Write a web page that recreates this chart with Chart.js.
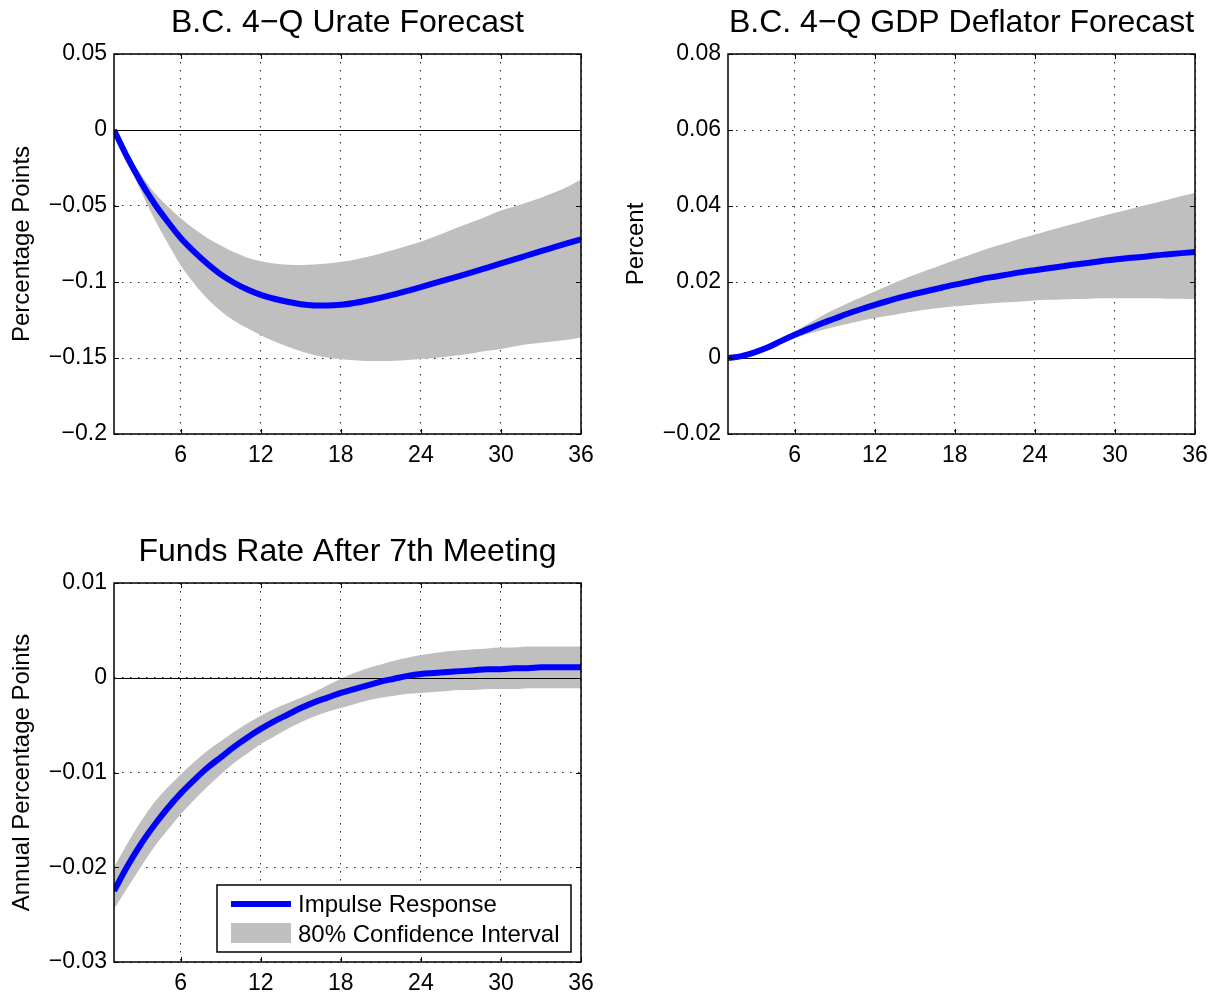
<!DOCTYPE html>
<html><head><meta charset="utf-8">
<script src="https://cdn.jsdelivr.net/npm/chart.js@4.4.1/dist/chart.umd.min.js"></script>
<style>
html,body{margin:0;padding:0;background:#fff;width:1216px;height:998px;overflow:hidden}
canvas{position:absolute}
</style></head><body>
<canvas id="c1" width="608" height="490" style="left:0;top:0"></canvas>
<canvas id="c2" width="608" height="490" style="left:608px;top:0"></canvas>
<canvas id="c3" width="608" height="498" style="left:0;top:500px"></canvas>
<script>
// ---- data ----
const horizon = [1,2,3,4,5,6,7,8,9,10,11,12,13,14,15,16,17,18,19,20,21,22,23,24,25,26,27,28,29,30,31,32,33,34,35,36];
const xTicks = [6,12,18,24,30,36];

const urateIR = [0,-0.018,-0.034,-0.048,-0.060,-0.071,-0.080,-0.088,-0.095,-0.1005,-0.105,-0.1085,-0.111,-0.113,-0.1146,-0.1154,-0.1155,-0.1150,-0.1138,-0.1122,-0.1103,-0.1082,-0.1058,-0.1033,-0.1008,-0.0983,-0.0958,-0.0932,-0.0905,-0.0878,-0.0851,-0.0824,-0.0797,-0.0771,-0.0745,-0.0719];
const urateHi = [0,-0.015,-0.029,-0.041,-0.050,-0.058,-0.065,-0.071,-0.076,-0.0805,-0.084,-0.0863,-0.0878,-0.0886,-0.0888,-0.0885,-0.0878,-0.0867,-0.0853,-0.0834,-0.0812,-0.0788,-0.0762,-0.0735,-0.0703,-0.0668,-0.0634,-0.0600,-0.0565,-0.0530,-0.0503,-0.0475,-0.0445,-0.0412,-0.0373,-0.0325];
const urateLo = [0,-0.020,-0.040,-0.058,-0.074,-0.089,-0.101,-0.111,-0.119,-0.1255,-0.1305,-0.135,-0.139,-0.1425,-0.1455,-0.148,-0.1497,-0.1508,-0.1515,-0.152,-0.152,-0.1518,-0.1513,-0.1507,-0.150,-0.149,-0.148,-0.1467,-0.1453,-0.144,-0.1425,-0.141,-0.140,-0.139,-0.138,-0.1365];
const urateTicks = [0.05,0,-0.05,-0.1,-0.15,-0.2];

const gdpIR = [0,0.0005,0.0015,0.0028,0.0045,0.0061,0.0076,0.0091,0.0104,0.0117,0.0129,0.0140,0.0150,0.0160,0.0169,0.0177,0.0185,0.0193,0.0200,0.0208,0.0214,0.0220,0.0226,0.0231,0.0236,0.0241,0.0246,0.0250,0.0255,0.0259,0.0263,0.0266,0.0270,0.0273,0.0276,0.0279];
const gdpHi = [0,0.0006,0.0017,0.0032,0.0050,0.0070,0.0090,0.0110,0.0128,0.0145,0.0160,0.0175,0.0190,0.0205,0.0219,0.0232,0.0245,0.0258,0.0270,0.0282,0.0294,0.0304,0.0315,0.0325,0.0335,0.0345,0.0354,0.0364,0.0373,0.0382,0.0391,0.0400,0.0408,0.0417,0.0426,0.0434];
const gdpLo = [0,0.0004,0.0013,0.0025,0.0039,0.0052,0.0063,0.0073,0.0082,0.0090,0.0098,0.0105,0.0111,0.0117,0.0123,0.0128,0.0132,0.0136,0.0139,0.0142,0.0145,0.0147,0.0149,0.0151,0.0153,0.0154,0.0155,0.0156,0.0157,0.0157,0.0157,0.0157,0.0157,0.0156,0.0156,0.0155];
const gdpTicks = [0.08,0.06,0.04,0.02,0,-0.02];

const fundsIR = [-0.0225,-0.0199,-0.0176,-0.0156,-0.0138,-0.0122,-0.0108,-0.0095,-0.0084,-0.0073,-0.0063,-0.0054,-0.0046,-0.0039,-0.0032,-0.0026,-0.0021,-0.0016,-0.0012,-0.0008,-0.0004,-0.0001,0.0002,0.0004,0.0005,0.0006,0.0007,0.0008,0.0009,0.0009,0.0010,0.0010,0.0011,0.0011,0.0011,0.0011];
const fundsHi = [-0.0200,-0.0175,-0.0152,-0.0132,-0.0116,-0.0102,-0.0089,-0.0077,-0.0067,-0.0057,-0.0048,-0.0040,-0.0033,-0.0027,-0.0021,-0.0015,-0.0008,-0.0001,0.0005,0.0010,0.0014,0.0018,0.0021,0.0024,0.0026,0.0028,0.0029,0.0030,0.0031,0.0032,0.0032,0.0033,0.0033,0.0033,0.0033,0.0033];
const fundsLo = [-0.0244,-0.0222,-0.0200,-0.0179,-0.0161,-0.0144,-0.0129,-0.0115,-0.0102,-0.0090,-0.0080,-0.0070,-0.0062,-0.0054,-0.0047,-0.0041,-0.0036,-0.0032,-0.0028,-0.0024,-0.0021,-0.0019,-0.0017,-0.0016,-0.0015,-0.0014,-0.0013,-0.0013,-0.0012,-0.0012,-0.0012,-0.0011,-0.0011,-0.0011,-0.0011,-0.0011];
const fundsTicks = [0.01,0,-0.01,-0.02,-0.03];

const seriesNames = ['Impulse Response','80% Confidence Interval'];

// ---- drawing ----
const FONT = "'Liberation Sans', Arial, Helvetica, sans-serif";
const BLUE = '#0000ff';
const GRAY = '#bfbfbf';

function fmt(v){
  if (Math.abs(v) < 1e-12) return '0';
  return (v < 0 ? '\u2212' : '') + String(Math.abs(v));
}

const panelPlugin = {
  id: 'panelDeco',
  beforeDatasetDraw(chart, args) {
    if (args.index !== 0) return;
    const {ctx, chartArea: a, scales: {y}} = chart;
    const yz = Math.round(y.getPixelForValue(0)) + 0.5;
    ctx.save();
    ctx.strokeStyle = '#000'; ctx.lineWidth = 1;
    ctx.beginPath(); ctx.moveTo(a.left, yz); ctx.lineTo(a.right, yz); ctx.stroke();
    ctx.restore();
  },
  afterDraw(chart) {
    const o = chart.options.plugins.panelDeco;
    const {ctx, chartArea: a, scales: {x, y}} = chart;
    ctx.save();
    ctx.strokeStyle = '#000'; ctx.lineWidth = 1.5;
    ctx.strokeRect(a.left, a.top, a.right - a.left, a.bottom - a.top);
    ctx.lineWidth = 1;
    ctx.beginPath();
    x.ticks.forEach(t => {
      const px = Math.round(x.getPixelForValue(t.value)) + 0.5;
      ctx.moveTo(px, a.bottom); ctx.lineTo(px, a.bottom - 5);
      ctx.moveTo(px, a.top); ctx.lineTo(px, a.top + 5);
    });
    y.ticks.forEach(t => {
      const py = Math.round(y.getPixelForValue(t.value)) + 0.5;
      ctx.moveTo(a.left, py); ctx.lineTo(a.left + 5, py);
      ctx.moveTo(a.right, py); ctx.lineTo(a.right - 5, py);
    });
    ctx.stroke();
    ctx.fillStyle = '#000';
    ctx.font = '32px ' + FONT;
    ctx.textAlign = 'center'; ctx.textBaseline = 'middle';
    ctx.fillText(o.title, (a.left + a.right) / 2, a.top - 31);
    if (o.legend) {
      const L = o.legend;
      ctx.fillStyle = '#fff';
      ctx.fillRect(L.x, L.y, L.w, L.h);
      ctx.strokeStyle = '#000'; ctx.lineWidth = 1.5;
      ctx.strokeRect(L.x, L.y, L.w, L.h);
      ctx.strokeStyle = BLUE; ctx.lineWidth = 6;
      ctx.beginPath(); ctx.moveTo(L.x + 14, L.y + 19); ctx.lineTo(L.x + 74, L.y + 19); ctx.stroke();
      ctx.fillStyle = GRAY;
      ctx.fillRect(L.x + 14, L.y + 38, 60, 20);
      ctx.fillStyle = '#000';
      ctx.font = '24px ' + FONT;
      ctx.textAlign = 'left'; ctx.textBaseline = 'middle';
      ctx.fillText(chart.data.datasets[0].label, L.x + 81, L.y + 20);
      ctx.fillText(chart.data.datasets[1].label, L.x + 81, L.y + 50);
    }
    ctx.restore();
  }
};

function pts(arr){ return arr.map((v, i) => ({x: horizon[i], y: v})); }

function makePanel(id, cfg) {
  const common = {pointRadius: 0, cubicInterpolationMode: 'monotone'};
  new Chart(document.getElementById(id), {
    type: 'line',
    data: {
      datasets: [
        Object.assign({label: seriesNames[0], data: pts(cfg.ir), borderColor: BLUE, borderWidth: 6, fill: false, borderCapStyle: 'butt'}, common),
        Object.assign({label: seriesNames[1], data: pts(cfg.hi), borderWidth: 0, borderColor: 'rgba(0,0,0,0)', backgroundColor: GRAY, fill: '+1'}, common),
        Object.assign({label: 'lower', data: pts(cfg.lo), borderWidth: 0, borderColor: 'rgba(0,0,0,0)', fill: false}, common)
      ]
    },
    options: {
      responsive: false, animation: false, devicePixelRatio: 1,
      layout: {padding: {left: cfg.padL, right: cfg.padR, top: cfg.padT, bottom: 0}},
      plugins: {
        legend: {display: false}, tooltip: {enabled: false}, title: {display: false},
        panelDeco: {title: cfg.title, legend: cfg.legend}
      },
      scales: {
        x: {
          type: 'linear', min: 1, max: 36,
          afterBuildTicks: s => { s.ticks = xTicks.map(v => ({value: v})); },
          afterFit: s => { s.height = cfg.xH; },
          ticks: {color: '#000', font: {family: FONT, size: 23}, padding: 8, maxRotation: 0, autoSkip: false, callback: v => String(v)},
          grid: {color: 'rgba(0,0,0,0.85)', lineWidth: 1, drawTicks: false},
          border: {display: false, dash: [1.5, 6.5]}
        },
        y: {
          type: 'linear', min: cfg.yMin, max: cfg.yMax,
          afterBuildTicks: s => { s.ticks = cfg.yTicks.map(v => ({value: v})); },
          afterFit: s => { s.width = 114; },
          ticks: {color: '#000', font: {family: FONT, size: 23}, padding: 7, autoSkip: false, callback: v => fmt(v)},
          grid: {color: 'rgba(0,0,0,0.85)', lineWidth: 1, drawTicks: false},
          border: {display: false, dash: [1.5, 6.5]},
          title: {display: true, text: cfg.yLabel, color: '#000', font: {family: FONT, size: 24}, padding: {top: 8, bottom: 0}}
        }
      }
    },
    plugins: [panelPlugin]
  });
}

makePanel('c1', {title: 'B.C. 4\u2212Q Urate Forecast', yLabel: 'Percentage Points', ir: urateIR, hi: urateHi, lo: urateLo,
  yMin: -0.2, yMax: 0.05, yTicks: urateTicks, padL: 0, padR: 27, padT: 54, xH: 56});
makePanel('c2', {title: 'B.C. 4\u2212Q GDP Deflator Forecast', yLabel: 'Percent', ir: gdpIR, hi: gdpHi, lo: gdpLo,
  yMin: -0.02, yMax: 0.08, yTicks: gdpTicks, padL: 6, padR: 21, padT: 54, xH: 56});
makePanel('c3', {title: 'Funds Rate After 7th Meeting', yLabel: 'Annual Percentage Points', ir: fundsIR, hi: fundsHi, lo: fundsLo,
  yMin: -0.03, yMax: 0.01, yTicks: fundsTicks, padL: 0, padR: 27, padT: 83, xH: 36,
  legend: {x: 217, y: 385, w: 354, h: 67}});
</script>
</body></html>
